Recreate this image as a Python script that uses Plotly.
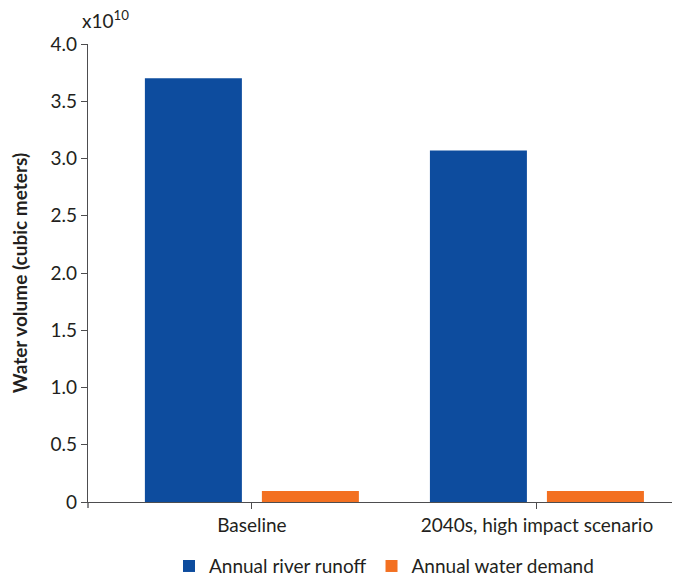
import plotly.graph_objects as go

categories = ["Baseline", "2040s, high impact scenario"]
runoff = [3.70e10, 3.07e10]
demand = [0.096e10, 0.096e10]
series_names = ["Annual river runoff", "Annual water demand"]
ytick_vals = [0, 0.5, 1.0, 1.5, 2.0, 2.5, 3.0, 3.5, 4.0]
ytick_text = ["0", "0.5", "1.0", "1.5", "2.0", "2.5", "3.0", "3.5", "4.0"]
scale = 1e10

FONT = "Lato"
TXT = "#231F20"
AX = "#4D4D4F"
FS = 19

fig = go.Figure()
fig.add_trace(go.Bar(x=categories, y=[v / scale for v in runoff], name=series_names[0],
                     marker=dict(color="#0D4C9E", line=dict(width=0))))
fig.add_trace(go.Bar(x=categories, y=[v / scale for v in demand], name=series_names[1],
                     marker=dict(color="#F37021", line=dict(width=0))))

fig.update_layout(
    width=672, height=568,
    margin=dict(l=80, r=0, t=36, b=74, autoexpand=False),
    paper_bgcolor="white", plot_bgcolor="white",
    barmode="group", bargap=0.179, bargroupgap=0.171,
    font=dict(family=FONT, size=FS, color=TXT),
    showlegend=True,
    legend=dict(orientation="h", x=0.5, xanchor="center", y=-0.14, yanchor="middle",
                font=dict(size=FS, color=TXT), itemwidth=30, traceorder="normal"),
    xaxis=dict(range=[-0.575, 1.502], showline=True, linecolor=AX, linewidth=1.3,
               ticks="outside", ticklen=6, tickcolor=AX, tickwidth=1.3, automargin=False,
               showgrid=False, zeroline=False, tickfont=dict(size=FS, color=TXT)),
    yaxis=dict(range=[0, 4.0], tickvals=ytick_vals, ticktext=ytick_text,
               showline=True, linecolor=AX, linewidth=1.3, automargin=False,
               ticks="outside", ticklen=6, tickcolor=AX, tickwidth=1.3,
               showgrid=False, zeroline=False, tickfont=dict(size=FS, color=TXT),
               title=dict(text="<b>Water volume (cubic meters)</b>", font=dict(size=FS, color=TXT),
                          standoff=21)),
)

fig.add_annotation(text="x10<sup>10</sup>", xref="paper", yref="paper", x=-0.014, y=1,
                   xanchor="left", yanchor="bottom", yshift=10, showarrow=False,
                   font=dict(size=FS, color=TXT))
fig.add_shape(type="line", xref="paper", yref="paper", x0=0, x1=0, y0=0, y1=-6 / 458,
              line=dict(color=AX, width=1.3))

fig.write_html("out.html")
